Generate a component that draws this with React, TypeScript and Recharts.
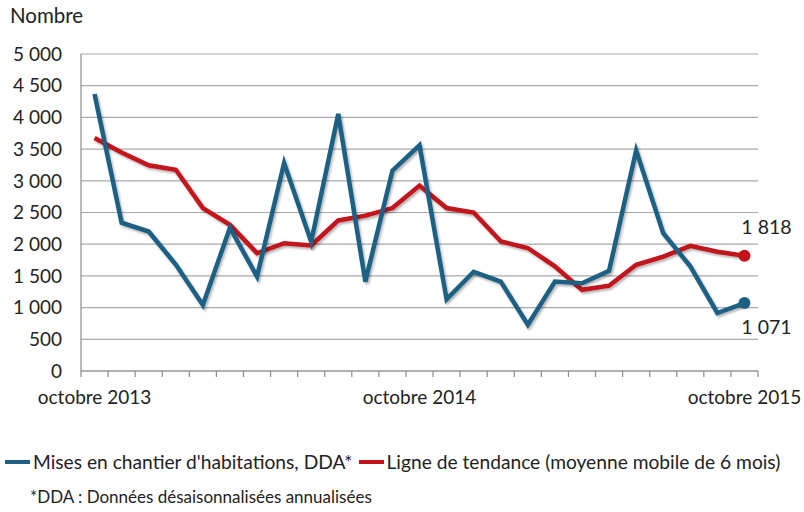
import { LineChart, Line, XAxis, YAxis, CartesianGrid, LabelList } from "recharts";

const categories = [
  "octobre 2013", "novembre 2013", "décembre 2013", "janvier 2014", "février 2014",
  "mars 2014", "avril 2014", "mai 2014", "juin 2014", "juillet 2014", "août 2014",
  "septembre 2014", "octobre 2014", "novembre 2014", "décembre 2014", "janvier 2015",
  "février 2015", "mars 2015", "avril 2015", "mai 2015", "juin 2015", "juillet 2015",
  "août 2015", "septembre 2015", "octobre 2015",
];

const mises = [
  4370, 2340, 2200, 1680, 1040, 2260, 1490, 3280, 2040, 4055, 1410, 3160, 3560,
  1130, 1565, 1410, 730, 1410, 1385, 1580, 3480, 2175, 1650, 915, 1071,
];

const tendance = [
  3675, 3445, 3245, 3175, 2570, 2305, 1860, 2015, 1980, 2375, 2450, 2570, 2925,
  2570, 2500, 2045, 1940, 1650, 1280, 1345, 1675, 1805, 1975, 1880, 1818,
];

const yTicks = [0, 500, 1000, 1500, 2000, 2500, 3000, 3500, 4000, 4500, 5000];
const xLabelTicks = [0, 12, 24];

const BLUE = "#1d6083";
const RED = "#c3121c";
const AXIS = "#8c8c8c";
const FONT = "Lato, 'Open Sans', sans-serif";

const CHART_W = 804;
const MARGIN = { top: 54, right: 46, left: 0, bottom: 19 };
const Y_AXIS_W = 81;
const TICK_SIZE = 6;
const TICK_MARGIN = 14;

const data = categories.map((month, i) => ({
  i,
  month,
  mises: mises[i],
  tendance: tendance[i],
}));

const last = categories.length - 1;
// tick marks sit on the month boundaries, labels on the month centres
const boundaryTicks = Array.from({ length: categories.length + 1 }, (_, k) => k - 0.5);
const halfBand = (CHART_W - MARGIN.left - MARGIN.right - Y_AXIS_W) / categories.length / 2;

const fmt = (v: number) =>
  v >= 1000 ? `${Math.floor(v / 1000)} ${String(v % 1000).padStart(3, "0")}` : String(v);

const MonthTick = (props: any) => {
  const idx = props.payload.value + 0.5;
  const axisY = props.y - TICK_SIZE - TICK_MARGIN;
  return (
    <g>
      <line x1={props.x} x2={props.x} y1={axisY} y2={axisY + TICK_SIZE} stroke={AXIS} strokeWidth={1.2} />
      {xLabelTicks.includes(idx) && (
        <text x={props.x + halfBand} y={props.y} dy="0.71em" textAnchor="middle" fontSize={19} fill="#222" fontFamily={FONT}>
          {categories[idx]}
        </text>
      )}
    </g>
  );
};

const endDot = (color: string) => (props: any) =>
  props.index === last ? (
    <circle key={props.index} cx={props.cx} cy={props.cy} r={6} fill={color} />
  ) : (
    <g key={props.index} />
  );

const endLabel = (dx: number, dy: number) => (props: any) =>
  props.index === last ? (
    <text x={props.x + dx} y={props.y + dy} textAnchor="middle" fontSize={19.5} fill="#222" fontFamily={FONT}>
      {fmt(props.value)}
    </text>
  ) : null;

const App = () => {
  return (
    <div style={{ position: "absolute", left: 0, top: 0, width: 804, height: 512, background: "#fff", fontFamily: FONT, color: "#222" }}>
      <div style={{ position: "absolute", left: 10, top: 3, fontSize: 20.5 }}>Nombre</div>
      <LineChart width={CHART_W} height={430} data={data} margin={MARGIN}>
        <defs>
          <filter id="shadow" x="-5%" y="-5%" width="110%" height="120%">
            <feDropShadow dx="1.5" dy="2" stdDeviation="1.2" floodColor="#000" floodOpacity="0.3" />
          </filter>
        </defs>
        <CartesianGrid vertical={false} stroke="#a9a9a9" strokeWidth={1.2} />
        <XAxis
          type="number"
          dataKey="i"
          domain={[-0.5, last + 0.5]}
          ticks={boundaryTicks}
          interval={0}
          height={40}
          axisLine={{ stroke: AXIS, strokeWidth: 1.2 }}
          tickLine={false}
          tickSize={TICK_SIZE}
          tickMargin={TICK_MARGIN}
          tick={<MonthTick />}
        />
        <YAxis
          width={Y_AXIS_W}
          domain={[0, 5000]}
          ticks={yTicks}
          interval={0}
          stroke={AXIS}
          strokeWidth={1.2}
          tickLine={false}
          tickSize={10}
          tickMargin={9}
          tickFormatter={fmt}
          tick={{ fontSize: 19, fill: "#222", fontFamily: FONT }}
        />
        <Line
          dataKey="tendance"
          stroke={RED}
          strokeWidth={4.5}
          filter="url(#shadow)"
          dot={endDot(RED)}
          activeDot={false}
          isAnimationActive={false}
        >
          <LabelList dataKey="tendance" content={endLabel(22, -22)} />
        </Line>
        <Line
          dataKey="mises"
          stroke={BLUE}
          strokeWidth={4.5}
          filter="url(#shadow)"
          dot={endDot(BLUE)}
          activeDot={false}
          isAnimationActive={false}
        >
          <LabelList dataKey="mises" content={endLabel(22, 31)} />
        </Line>
      </LineChart>
      <div style={{ position: "absolute", left: 5, top: 450, fontSize: 19.2, display: "flex", alignItems: "center", whiteSpace: "nowrap" }}>
        <span style={{ display: "inline-block", width: 25, height: 4, background: BLUE, marginRight: 3 }} />
        <span>Mises en chantier d'habitations, DDA*</span>
        <span style={{ display: "inline-block", width: 25, height: 4, background: RED, marginLeft: 6, marginRight: 3 }} />
        <span>Ligne de tendance (moyenne mobile de 6 mois)</span>
      </div>
      <div style={{ position: "absolute", left: 30, top: 486, fontSize: 17 }}>
        *DDA : Données désaisonnalisées annualisées
      </div>
    </div>
  );
};

export default App;
